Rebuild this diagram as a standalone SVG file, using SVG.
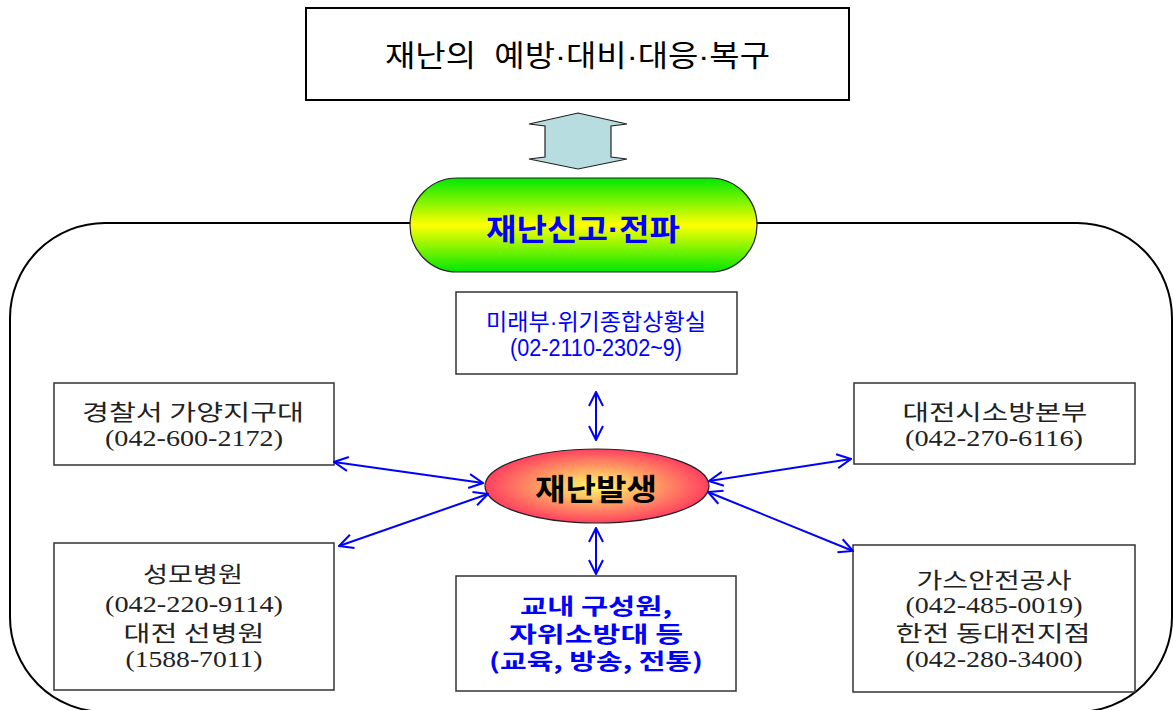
<svg xmlns="http://www.w3.org/2000/svg" width="1173" height="710" viewBox="0 0 1173 710">
<defs>
<style>
.box{fill:#fff;stroke:#333;stroke-width:1.5}
.k{font-family:"Noto Sans CJK KR",sans-serif;font-size:22px;fill:#222;text-anchor:middle}
.n{font-family:"Liberation Serif",serif;font-size:24px;fill:#222;text-anchor:middle}
.b{font-family:"Liberation Sans","Noto Sans CJK KR",sans-serif;font-size:23px;fill:#0000ff;text-anchor:middle}
.bb{font-family:"Noto Sans CJK KR",sans-serif;font-size:22px;font-weight:bold;fill:#0000ff;text-anchor:middle}
.con{stroke:#0000ff;stroke-width:2;fill:none;marker-start:url(#ah);marker-end:url(#ah)}
</style>
<marker id="ah" viewBox="0 0 16 16" refX="15" refY="8" markerWidth="16" markerHeight="16" markerUnits="userSpaceOnUse" orient="auto-start-reverse">
<path d="M1,1 L15,8 L1,15" fill="none" stroke="#0000ff" stroke-width="2"/>
</marker>
<linearGradient id="pillg" x1="0" y1="0" x2="0" y2="1">
<stop offset="0" stop-color="#00e800"/>
<stop offset="0.5" stop-color="#ffff00"/>
<stop offset="1" stop-color="#00e800"/>
</linearGradient>
<radialGradient id="ellg" cx="0.5" cy="0.5" r="0.5">
<stop offset="0" stop-color="#ffff66"/>
<stop offset="1" stop-color="#ff4060"/>
</radialGradient>
</defs>

<g id="frame">
<rect x="10" y="223" width="1162" height="489" rx="95" ry="95" fill="none" stroke="#000" stroke-width="2"/>
</g>

<g id="top">
<rect x="306" y="8" width="543" height="92" fill="#fff" stroke="#000" stroke-width="2"/>
<text x="577.5" y="66" font-family="Liberation Sans,Noto Sans CJK KR,sans-serif" font-size="30" fill="#000" text-anchor="middle" textLength="385" lengthAdjust="spacingAndGlyphs" xml:space="preserve">재난의  예방·대비·대응·복구</text>
</g>

<g id="bigarrow">
<polygon points="578,113 627,124 611,126 611,157 627,159 578,169 529,159 545,157 545,126 529,124" fill="#b7dde0" stroke="#222" stroke-width="1.2"/>
</g>

<g id="pill">
<rect x="410" y="178" width="347" height="94" rx="47" ry="47" fill="url(#pillg)" stroke="#222" stroke-width="1.2"/>
<text x="583" y="240" font-family="Liberation Sans,Noto Sans CJK KR,sans-serif" font-size="30" font-weight="bold" fill="#0000ff" text-anchor="middle" textLength="194" lengthAdjust="spacingAndGlyphs">재난신고·전파</text>
</g>

<g id="center">
<rect x="456" y="292" width="281" height="82" class="box"/>
<text x="596" y="330" class="b" textLength="220" lengthAdjust="spacingAndGlyphs">미래부·위기종합상황실</text>
<text x="596" y="356" class="b" font-size="24" textLength="172" lengthAdjust="spacingAndGlyphs">(02-2110-2302~9)</text>
</g>

<g id="police">
<rect x="54" y="383" width="280" height="82" class="box"/>
<text x="193" y="420" class="k" textLength="222" lengthAdjust="spacingAndGlyphs" xml:space="preserve">경찰서 가양지구대</text>
<text x="194" y="446" class="n" textLength="178" lengthAdjust="spacingAndGlyphs">(042-600-2172)</text>
</g>

<g id="fire">
<rect x="854" y="383" width="281" height="81" class="box"/>
<text x="995" y="420" class="k" textLength="185" lengthAdjust="spacingAndGlyphs">대전시소방본부</text>
<text x="994" y="446" class="n" textLength="178" lengthAdjust="spacingAndGlyphs">(042-270-6116)</text>
</g>

<g id="event">
<ellipse cx="597" cy="486" rx="112" ry="37" fill="url(#ellg)" stroke="#222" stroke-width="1.2"/>
<text x="596" y="500" font-family="Noto Sans CJK KR,sans-serif" font-size="30" font-weight="bold" fill="#000" text-anchor="middle" textLength="122" lengthAdjust="spacingAndGlyphs">재난발생</text>
</g>

<g id="hospital">
<rect x="54" y="543" width="280" height="147" class="box"/>
<text x="193" y="582" class="k" textLength="100" lengthAdjust="spacingAndGlyphs">성모병원</text>
<text x="194" y="612" class="n" textLength="178" lengthAdjust="spacingAndGlyphs">(042-220-9114)</text>
<text x="194" y="641" class="k" textLength="141" lengthAdjust="spacingAndGlyphs" xml:space="preserve">대전 선병원</text>
<text x="194" y="667" class="n" textLength="137" lengthAdjust="spacingAndGlyphs">(1588-7011)</text>
</g>

<g id="school">
<rect x="456" y="576" width="280" height="115" class="box"/>
<text x="596" y="614" class="bb" textLength="152" lengthAdjust="spacingAndGlyphs" xml:space="preserve">교내 구성원,</text>
<text x="596" y="642" class="bb" textLength="174" lengthAdjust="spacingAndGlyphs" xml:space="preserve">자위소방대 등</text>
<text x="596" y="669" class="bb" textLength="214" lengthAdjust="spacingAndGlyphs">(교육, 방송, 전통)</text>
</g>

<g id="gas">
<rect x="853" y="545" width="282" height="147" class="box"/>
<text x="994" y="588" class="k" textLength="155" lengthAdjust="spacingAndGlyphs">가스안전공사</text>
<text x="994" y="613" class="n" textLength="177" lengthAdjust="spacingAndGlyphs">(042-485-0019)</text>
<text x="993" y="641" class="k" textLength="195" lengthAdjust="spacingAndGlyphs" xml:space="preserve">한전 동대전지점</text>
<text x="994" y="667" class="n" textLength="177" lengthAdjust="spacingAndGlyphs">(042-280-3400)</text>
</g>

<g id="connectors">
<line x1="596" y1="392" x2="596" y2="440" class="con"/>
<line x1="596" y1="528" x2="596" y2="574" class="con"/>
<line x1="334" y1="462" x2="483" y2="483" class="con"/>
<line x1="339" y1="546" x2="488" y2="494" class="con"/>
<line x1="709" y1="481" x2="851" y2="459" class="con"/>
<line x1="708" y1="492" x2="853" y2="551" class="con"/>
</g>
</svg>
